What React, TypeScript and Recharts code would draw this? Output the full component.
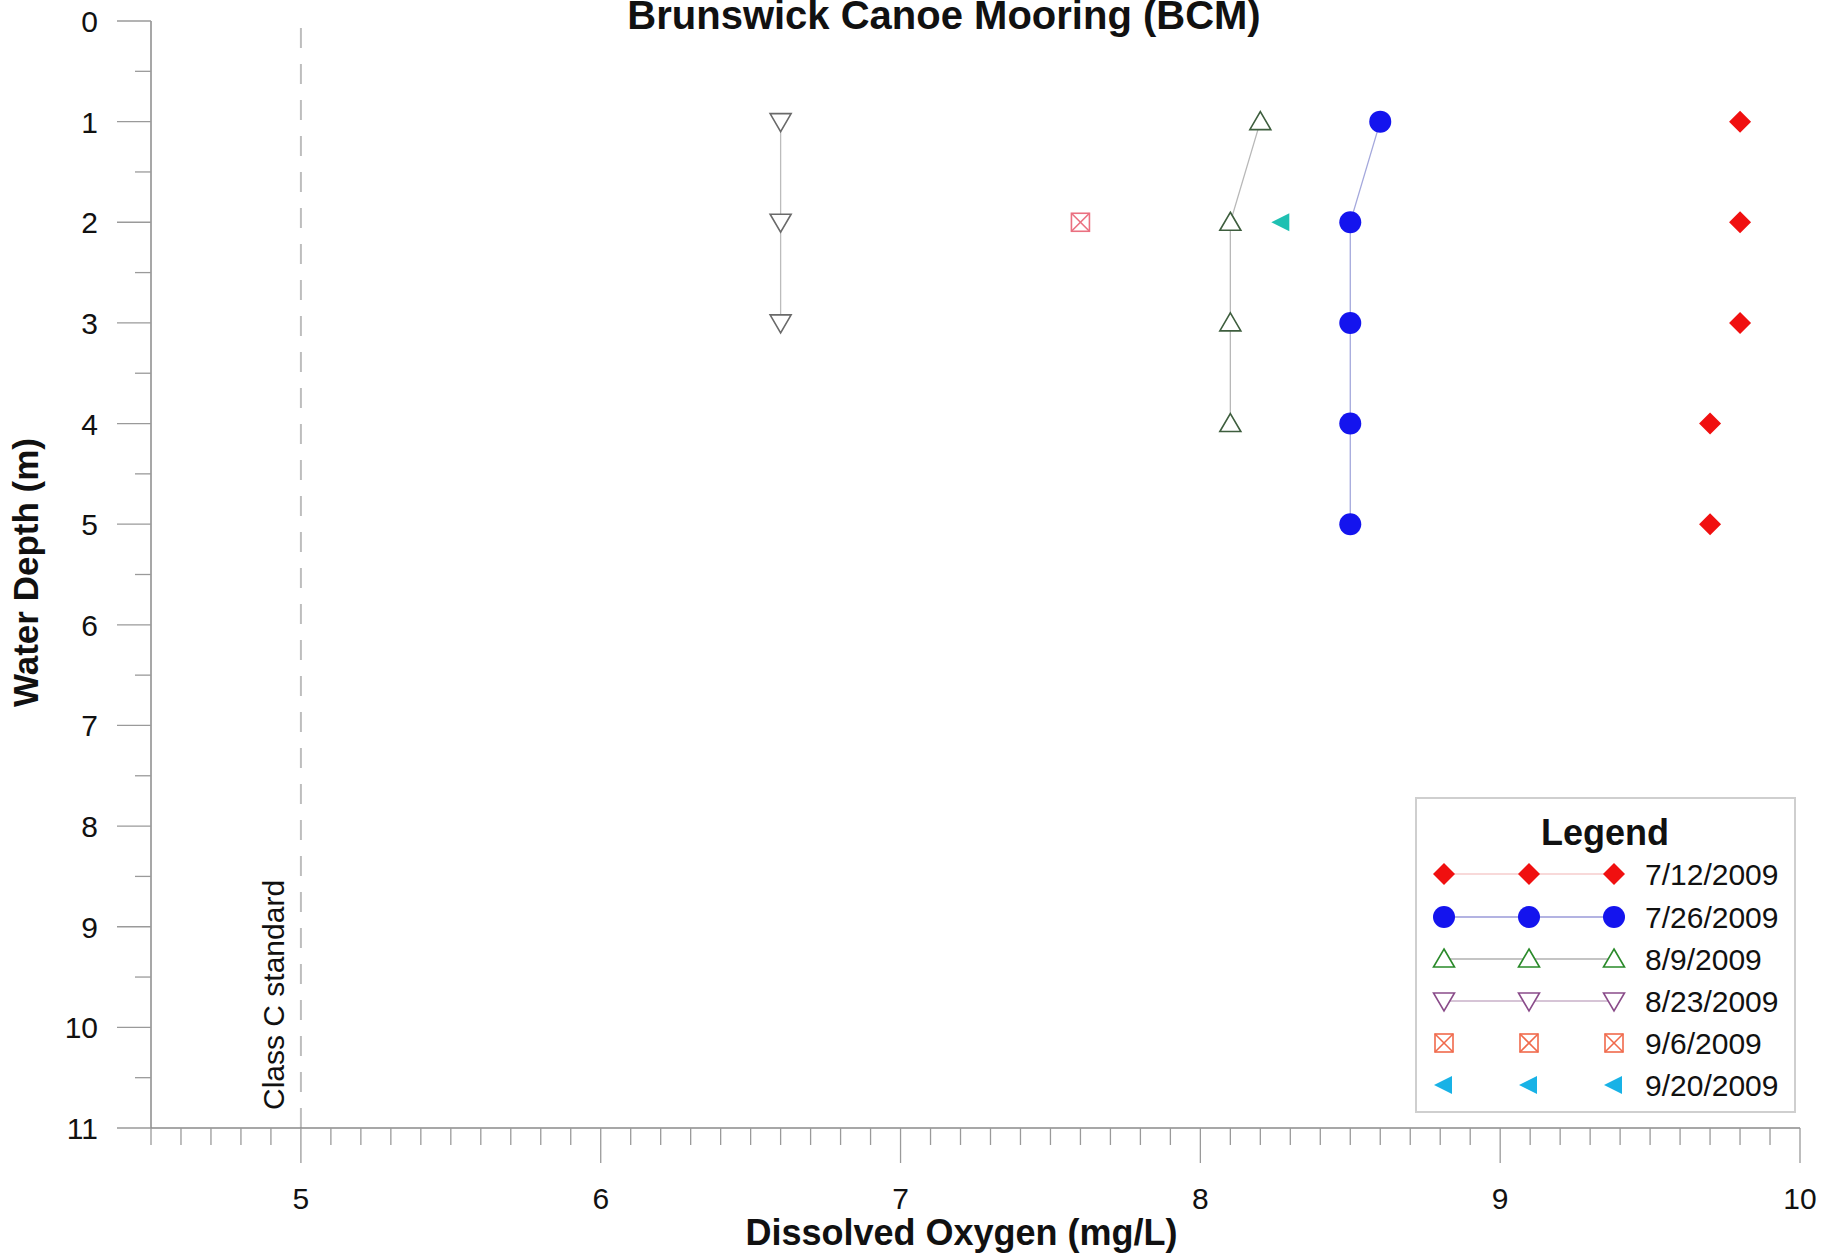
import React from 'react';
import { ScatterChart, Scatter, XAxis, YAxis, ReferenceLine, Legend } from 'recharts';

const FONT = '"Liberation Sans", Arial, Helvetica, sans-serif';

const chartTitle = 'Brunswick Canoe Mooring (BCM)';
const xAxisTitle = 'Dissolved Oxygen (mg/L)';
const yAxisTitle = 'Water Depth (m)';
const legendTitle = 'Legend';
const standardLabel = 'Class C standard';
const classCStandard = 5;

const seriesNames = ['7/12/2009', '7/26/2009', '8/9/2009', '8/23/2009', '9/6/2009', '9/20/2009'];

const depth0712 = [1, 2, 3, 4, 5];
const oxygen0712 = [9.8, 9.8, 9.8, 9.7, 9.7];
const depth0726 = [1, 2, 3, 4, 5];
const oxygen0726 = [8.6, 8.5, 8.5, 8.5, 8.5];
const depth0809 = [1, 2, 3, 4];
const oxygen0809 = [8.2, 8.1, 8.1, 8.1];
const depth0823 = [1, 2, 3];
const oxygen0823 = [6.6, 6.6, 6.6];
const depth0906 = [2];
const oxygen0906 = [7.6];
const depth0920 = [2];
const oxygen0920 = [8.27];

const xDomain = [4.5, 10];
const yDomain = [0, 11];
const xMajorTicks = [5, 6, 7, 8, 9, 10];
const yMajorTicks = [0, 1, 2, 3, 4, 5, 6, 7, 8, 9, 10, 11];
const xMinorTicks = Array.from({ length: 56 }, (_, i) => Math.round(45 + i) / 10);
const yMinorTicks = Array.from({ length: 23 }, (_, i) => i / 2);

const toPoints = (xs: number[], ys: number[]) => xs.map((x, i) => ({ x, y: ys[i] }));

const data0712 = toPoints(oxygen0712, depth0712);
const data0726 = toPoints(oxygen0726, depth0726);
const data0809 = toPoints(oxygen0809, depth0809);
const data0823 = toPoints(oxygen0823, depth0823);
const data0906 = toPoints(oxygen0906, depth0906);
const data0920 = toPoints(oxygen0920, depth0920);

type MarkerFn = (cx: number, cy: number, color: string) => React.ReactElement;

const diamond: MarkerFn = (cx, cy, c) => (
  <polygon points={`${cx},${cy - 11} ${cx + 11},${cy} ${cx},${cy + 11} ${cx - 11},${cy}`} fill={c} stroke="none" />
);
const circle: MarkerFn = (cx, cy, c) => <circle cx={cx} cy={cy} r={11} fill={c} stroke="none" />;
const upTriangle: MarkerFn = (cx, cy, c) => (
  <polygon points={`${cx},${cy - 10} ${cx + 10.5},${cy + 8} ${cx - 10.5},${cy + 8}`} fill="#fff" stroke={c} strokeWidth={1.6} />
);
const downTriangle: MarkerFn = (cx, cy, c) => (
  <polygon points={`${cx - 10.5},${cy - 8} ${cx + 10.5},${cy - 8} ${cx},${cy + 10}`} fill="#fff" stroke={c} strokeWidth={1.6} />
);
const crossBox: MarkerFn = (cx, cy, c) => (
  <g stroke={c} strokeWidth={1.6} fill="#fff">
    <rect x={cx - 9} y={cy - 9} width={18} height={18} />
    <line x1={cx - 9} y1={cy - 9} x2={cx + 9} y2={cy + 9} />
    <line x1={cx + 9} y1={cy - 9} x2={cx - 9} y2={cy + 9} />
  </g>
);
const leftTriangle: MarkerFn = (cx, cy, c) => (
  <polygon points={`${cx - 10},${cy} ${cx + 8},${cy - 9} ${cx + 8},${cy + 9}`} fill={c} stroke="none" />
);

const shapeOf = (fn: MarkerFn, color: string) => (props: any) => fn(props.cx, props.cy, color);

const legendStyles = [
  { marker: diamond, color: '#f01010', line: '#f6cccc' },
  { marker: circle, color: '#1414ee', line: '#9a9ad8' },
  { marker: upTriangle, color: '#2a8a2a', line: '#b0b0b0' },
  { marker: downTriangle, color: '#8a4c8a', line: '#c8b0c8' },
  { marker: crossBox, color: '#f06a4c', line: null },
  { marker: leftTriangle, color: '#18b2e6', line: null },
];

const XTick = (props: any) => {
  const { x, y, payload } = props;
  const v = payload.value;
  const major = xMajorTicks.some((m) => Math.abs(m - v) < 1e-6);
  return (
    <g>
      <line x1={x} y1={y} x2={x} y2={y + (major ? 35 : 17)} stroke="#9a9a9a" strokeWidth={1.3} />
      {major && (
        <text x={x} y={y + 81} textAnchor="middle" fontSize={30} fill="#111" fontFamily={FONT}>
          {v}
        </text>
      )}
    </g>
  );
};

const YTick = (props: any) => {
  const { x, y, payload } = props;
  const v = payload.value;
  const major = yMajorTicks.some((m) => Math.abs(m - v) < 1e-6);
  return (
    <g>
      <line x1={x - (major ? 34 : 16)} y1={y} x2={x} y2={y} stroke="#9a9a9a" strokeWidth={1.3} />
      {major && (
        <text x={x - 53} y={y + 11} textAnchor="end" fontSize={30} fill="#111" fontFamily={FONT}>
          {v}
        </text>
      )}
    </g>
  );
};

const XTitle = (props: any) => {
  const vb = props.viewBox;
  return (
    <text x={vb.x + vb.width / 2 - 14} y={vb.y + 117} textAnchor="middle" fontSize={36} fontWeight="bold" fill="#111" fontFamily={FONT}>
      {xAxisTitle}
    </text>
  );
};

const YTitle = (props: any) => {
  const vb = props.viewBox;
  const cy = vb.y + vb.height / 2 - 2;
  return (
    <text x={38} y={cy} transform={`rotate(-90, 38, ${cy})`} textAnchor="middle" fontSize={35} fontWeight="bold" fill="#111" fontFamily={FONT}>
      {yAxisTitle}
    </text>
  );
};

const StandardLabel = (props: any) => {
  const vb = props.viewBox || { x: 301, y: 21, width: 0, height: 1107 };
  const x = vb.x - 16.5;
  const y = vb.y + vb.height - 18;
  return (
    <text x={x} y={y} transform={`rotate(-90, ${x}, ${y})`} textAnchor="start" fontSize={30} fill="#111" fontFamily={FONT}>
      {standardLabel}
    </text>
  );
};

const LegendBox = () => {
  const rowsY = [77, 120, 162, 204, 246, 288];
  const symX = [29, 114, 199];
  return (
    <svg width={381} height={316} style={{ display: 'block' }}>
      <rect x={1} y={1} width={379} height={314} fill="#fff" stroke="#cfcfcf" strokeWidth={2} />
      <text x={190} y={48} textAnchor="middle" fontSize={36} fontWeight="bold" fill="#111" fontFamily={FONT}>
        {legendTitle}
      </text>
      {seriesNames.map((name, i) => {
        const st = legendStyles[i];
        const cy = rowsY[i];
        return (
          <g key={name}>
            {st.line && <line x1={symX[0]} y1={cy} x2={symX[2]} y2={cy} stroke={st.line} strokeWidth={1.3} />}
            {symX.map((sx) => (
              <g key={sx}>{st.marker(sx, cy, st.color)}</g>
            ))}
            <text x={230} y={cy + 10.5} fontSize={30} fill="#111" fontFamily={FONT}>
              {name}
            </text>
          </g>
        );
      })}
    </svg>
  );
};

export default function App() {
  return (
    <div style={{ position: 'absolute', left: 0, top: 0, width: 1839, height: 1256, overflow: 'hidden', background: '#fff' }}>
      <ScatterChart width={1839} height={1256} margin={{ top: 21, right: 39, bottom: 0, left: 0 }}>
        <XAxis
          type="number"
          dataKey="x"
          domain={xDomain}
          ticks={xMinorTicks}
          interval={0}
          allowDataOverflow
          tickSize={0}
          tickMargin={0}
          tickLine={false}
          tick={<XTick />}
          height={128}
          axisLine={{ stroke: '#8a8a8a', strokeWidth: 1.5 }}
          label={<XTitle />}
        />
        <YAxis
          type="number"
          dataKey="y"
          domain={yDomain}
          reversed
          ticks={yMinorTicks}
          interval={0}
          allowDataOverflow
          tickSize={0}
          tickMargin={0}
          tickLine={false}
          tick={<YTick />}
          width={151}
          axisLine={{ stroke: '#8a8a8a', strokeWidth: 1.5 }}
          label={<YTitle />}
        />
        <ReferenceLine
          x={classCStandard}
          stroke="#bdbdbd"
          strokeWidth={2}
          strokeDasharray="20 16"
          label={<StandardLabel />}
        />
        <Scatter name={seriesNames[0]} data={data0712} isAnimationActive={false} shape={shapeOf(diamond, '#f01010')} />
        <Scatter
          name={seriesNames[1]}
          data={data0726}
          isAnimationActive={false}
          line={{ stroke: '#a4a8dc', strokeWidth: 1.3 }}
          shape={shapeOf(circle, '#1414ee')}
        />
        <Scatter
          name={seriesNames[2]}
          data={data0809}
          isAnimationActive={false}
          line={{ stroke: '#b8b8b8', strokeWidth: 1.3 }}
          shape={shapeOf(upTriangle, '#3e5e3e')}
        />
        <Scatter
          name={seriesNames[3]}
          data={data0823}
          isAnimationActive={false}
          line={{ stroke: '#bcbcbc', strokeWidth: 1.3 }}
          shape={shapeOf(downTriangle, '#6a6a6a')}
        />
        <Scatter name={seriesNames[4]} data={data0906} isAnimationActive={false} shape={shapeOf(crossBox, '#ea7080')} />
        <Scatter name={seriesNames[5]} data={data0920} isAnimationActive={false} shape={shapeOf(leftTriangle, '#1fc0b2')} />
        <Legend
          layout="horizontal"
          verticalAlign="middle"
          align="center"
          content={<LegendBox />}
          wrapperStyle={{ position: 'absolute', left: 1415, top: 797, width: 381, height: 316 }}
        />
      </ScatterChart>
      <div
        style={{
          position: 'absolute',
          left: 444,
          top: 0,
          width: 1000,
          textAlign: 'center',
          fontFamily: FONT,
          fontSize: 40,
          lineHeight: '30px',
          fontWeight: 'bold',
          color: '#111',
          whiteSpace: 'nowrap',
        }}
      >
        {chartTitle}
      </div>
    </div>
  );
}
